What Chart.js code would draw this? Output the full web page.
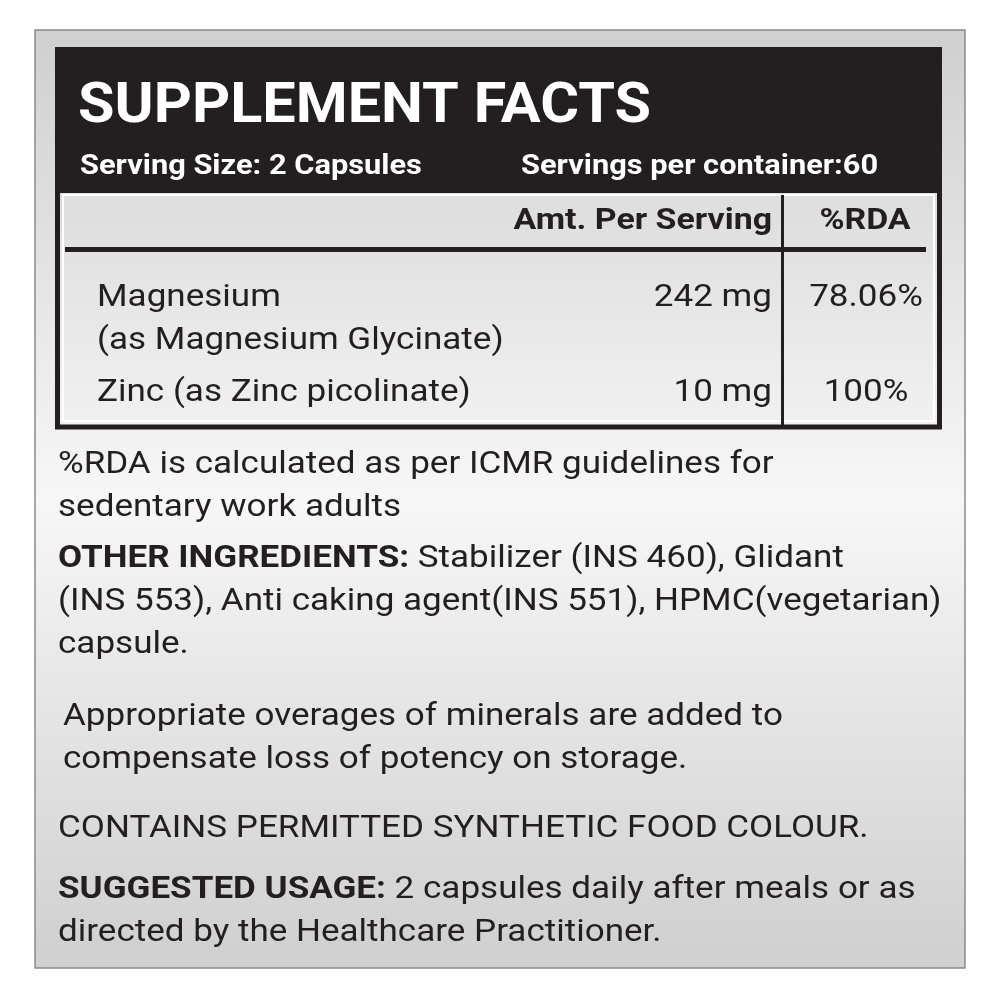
<!DOCTYPE html>
<html>
<head>
<meta charset="utf-8">
<script src="https://cdn.jsdelivr.net/npm/chart.js@4"></script>
<style>
  html, body { margin: 0; padding: 0; background: #fff; }
  #wrap { width: 1000px; height: 1000px; }
</style>
</head>
<body>
<div id="wrap"><canvas id="labelChart" width="1000" height="1000"></canvas></div>
<script>
const title = 'SUPPLEMENT FACTS';
const servingSize = 'Serving Size: 2 Capsules';
const servingsPer = 'Servings per container:60';
const columns = ['Amt. Per Serving', '%RDA'];
const nutrients = [['Magnesium', '(as Magnesium Glycinate)'], ['Zinc (as Zinc picolinate)']];
const amounts = ['242 mg', '10 mg'];
const rda = ['78.06%', '100%'];
const notes = [
  [['', '%RDA is calculated as per ICMR guidelines for'], ['', 'sedentary work adults']],
  [['OTHER INGREDIENTS: ', 'Stabilizer (INS 460), Glidant'], ['', '(INS 553), Anti caking agent(INS 551), HPMC(vegetarian)'], ['', 'capsule.']],
  [['', 'Appropriate overages of minerals are added to'], ['', 'compensate loss of potency on storage.']],
  [['', 'CONTAINS PERMITTED SYNTHETIC FOOD COLOUR.']],
  [['SUGGESTED USAGE: ', '2 capsules daily after meals or as'], ['', 'directed by the Healthcare Practitioner.']]
];
const F = 'Roboto, "Noto Sans", sans-serif';
const SX = 1.13;

// draw text stretched horizontally; returns drawn width
function txt(c, s, x, y, align, sx) {
  sx = sx || SX;
  const w = c.measureText(s).width * sx;
  let left = x;
  if (align === 'right') left = x - w;
  if (align === 'center') left = x - w / 2;
  c.save();
  c.textAlign = 'left';
  c.translate(left, y);
  c.scale(sx, 1);
  c.fillText(s, 0, 0);
  c.restore();
  return w;
}

const labelPlugin = {
  id: 'labelPlugin',
  beforeDraw(chart) {
    const c = chart.ctx;
    c.save();
    c.fillStyle = '#fff';
    c.fillRect(0, 0, 1000, 1000);
    const g = c.createLinearGradient(0, 30, 0, 968);
    g.addColorStop(0, '#cfcfcf');
    g.addColorStop(0.5, '#f7f7f7');
    g.addColorStop(1, '#cfcfcf');
    c.fillStyle = g;
    c.fillRect(35, 30, 930, 938);
    c.strokeStyle = '#8a8a8a'; c.lineWidth = 1.5;
    c.strokeRect(35, 30, 930, 938);

    c.fillStyle = '#231f20';
    c.fillRect(55, 47, 887, 146);
    c.fillStyle = '#fff';
    c.textBaseline = 'alphabetic';
    c.font = 'bold 56px ' + F;
    txt(c, title, 78, 122, 'left', 1.06);
    c.font = 'bold 28px ' + F;
    txt(c, servingSize, 80, 174, 'left', 1.1);
    txt(c, servingsPer, 521, 174, 'left', 1.1);

    c.strokeStyle = '#231f20'; c.lineWidth = 5;
    c.strokeRect(57.5, 190, 882, 237);
    c.strokeStyle = '#fff'; c.lineWidth = 2;
    c.strokeRect(63, 195, 871, 226);
    c.fillStyle = '#231f20';
    c.fillRect(65, 247, 861, 5);
    c.fillRect(781, 195, 3, 230);

    c.font = 'bold 30px ' + F;
    txt(c, columns[0], 772, 229, 'right');
    txt(c, columns[1], 865, 229, 'center');

    c.font = '31px ' + F;
    const rowY = [306, 401];
    nutrients.forEach((lines, i) => {
      lines.forEach((t, j) => txt(c, t, 97, rowY[i] + j * 43, 'left'));
      txt(c, amounts[i], 772, rowY[i], 'right');
      txt(c, rda[i], 866, rowY[i], 'center');
    });

    const noteY = [473, 567, 725, 837, 898];
    const noteX = [58, 58, 63, 58, 58];
    notes.forEach((para, i) => {
      para.forEach((ln, j) => {
        let x = noteX[i];
        const y = noteY[i] + j * 43;
        if (ln[0]) {
          c.font = 'bold 31px ' + F;
          x += txt(c, ln[0], x, y, 'left');
        }
        c.font = '31px ' + F;
        txt(c, ln[1], x, y, 'left');
      });
    });
    c.restore();
  }
};

new Chart(document.getElementById('labelChart').getContext('2d'), {
  type: 'bar',
  data: { labels: [], datasets: [] },
  options: {
    responsive: false,
    animation: false,
    plugins: { legend: { display: false }, tooltip: { enabled: false } },
    scales: { x: { display: false }, y: { display: false } }
  },
  plugins: [labelPlugin]
});
</script>
</body>
</html>
